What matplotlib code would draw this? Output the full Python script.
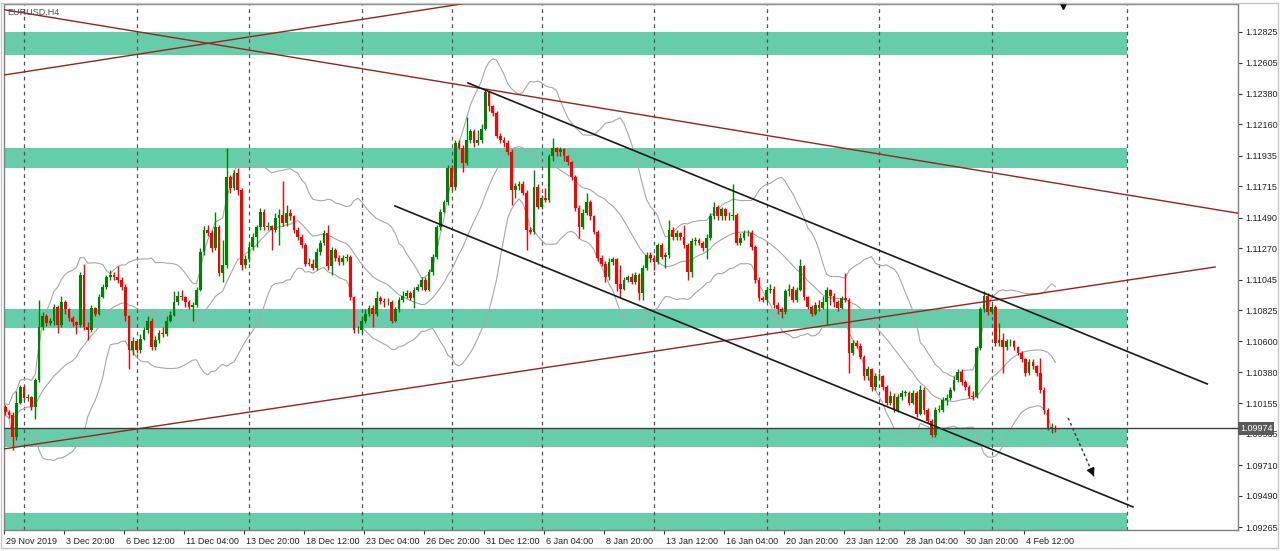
import numpy as np
import pandas as pd
import matplotlib
matplotlib.use('Agg')
import matplotlib.pyplot as plt
import matplotlib.transforms as mtransforms
from matplotlib.patches import Rectangle

plt.rcParams['font.family'] = ['Liberation Sans', 'DejaVu Sans']

# EURUSD H4 bars, 29 Nov 2019 .. 5 Feb 2020 (each bar opens at the previous close)
first_open = 1.1016
closes = [
    1.1013, 1.1009, 1.1007, 1.0991, 1.1016, 1.1027, 1.1019, 1.1020, 1.1013, 1.1032,
    1.1070, 1.1078, 1.1073, 1.1075, 1.1085, 1.1072, 1.1088, 1.1083, 1.1077, 1.1074,
    1.1072, 1.1108, 1.1070, 1.1068, 1.1084, 1.1080, 1.1092, 1.1099, 1.1106, 1.1108,
    1.1106, 1.1104, 1.1099, 1.1078, 1.1054, 1.1060, 1.1054, 1.1062, 1.1068, 1.1075,
    1.1056, 1.1061, 1.1066, 1.1065, 1.1075, 1.1079, 1.1088, 1.1093, 1.1092, 1.1088,
    1.1085, 1.1086, 1.1097, 1.1124, 1.1140, 1.1138, 1.1127, 1.1142, 1.1109, 1.1115,
    1.1178, 1.1170, 1.1181, 1.1169, 1.1115, 1.1119, 1.1128, 1.1135, 1.1142, 1.1153,
    1.1142, 1.1143, 1.1140, 1.1149, 1.1151, 1.1145, 1.1152, 1.1150, 1.1140, 1.1135,
    1.1129, 1.1116, 1.1116, 1.1113, 1.1124, 1.1131, 1.1138, 1.1114, 1.1126, 1.1120,
    1.1117, 1.1120, 1.1121, 1.1092, 1.1068, 1.1068, 1.1075, 1.1080, 1.1084, 1.1080,
    1.1091, 1.1089, 1.1088, 1.1088, 1.1075, 1.1083, 1.1090, 1.1093, 1.1095, 1.1091,
    1.1097, 1.1099, 1.1104, 1.1097, 1.1110, 1.1121, 1.1142, 1.1153, 1.1160, 1.1185,
    1.1171, 1.1203, 1.1199, 1.1188, 1.1205, 1.1211, 1.1203, 1.1205, 1.1213, 1.1239,
    1.1229, 1.1224, 1.1208, 1.1205, 1.1203, 1.1196, 1.1169, 1.1172, 1.1173, 1.1167,
    1.1140, 1.1139, 1.1171, 1.1157, 1.1163, 1.1162, 1.1193, 1.1199, 1.1196, 1.1198,
    1.1193, 1.1189, 1.1178, 1.1156, 1.1142, 1.1152, 1.1160, 1.1150, 1.1139, 1.1120,
    1.1116, 1.1106, 1.1117, 1.1119, 1.1101, 1.1098, 1.1104, 1.1106, 1.1103, 1.1108,
    1.1095, 1.1113, 1.1122, 1.1120, 1.1117, 1.1129, 1.1121, 1.1122, 1.1140, 1.1135,
    1.1138, 1.1135, 1.1129, 1.1110, 1.1132, 1.1133, 1.1131, 1.1127, 1.1134, 1.1150,
    1.1157, 1.1150, 1.1155, 1.1150, 1.1150, 1.1151, 1.1131, 1.1134, 1.1138, 1.1138,
    1.1128, 1.1104, 1.1091, 1.1090, 1.1097, 1.1098, 1.1086, 1.1083, 1.1081, 1.1096,
    1.1098, 1.1090, 1.1097, 1.1114, 1.1092, 1.1085, 1.1080, 1.1086, 1.1084, 1.1088,
    1.1097, 1.1093, 1.1088, 1.1084, 1.1091, 1.1090, 1.1052, 1.1059, 1.1057, 1.1049,
    1.1035, 1.1040, 1.1027, 1.1035, 1.1035, 1.1027, 1.1016, 1.1021, 1.1011, 1.1020,
    1.1023, 1.1023, 1.1016, 1.1023, 1.1008, 1.1025, 1.1011, 1.1003, 1.0993, 1.1011,
    1.1011, 1.1018, 1.1019, 1.1025, 1.1032, 1.1038, 1.1031, 1.1027, 1.1021, 1.1020,
    1.1055, 1.1083, 1.1093, 1.1081, 1.1085, 1.1059, 1.1061, 1.1056, 1.1060, 1.1060,
    1.1056, 1.1052, 1.1047, 1.1037, 1.1045, 1.1042, 1.1037, 1.1025, 1.1011, 1.0998,
    1.0998, 1.0997,
]
highs = [
    1.1017, 1.1014, 1.1011, 1.1009, 1.1024, 1.1029, 1.1029, 1.1022, 1.1021, 1.1034,
    1.1090, 1.1081, 1.1080, 1.1077, 1.1087, 1.1086, 1.1093, 1.1090, 1.1084, 1.1078,
    1.1075, 1.1110, 1.1116, 1.1074, 1.1086, 1.1085, 1.1094, 1.1101, 1.1108, 1.1111,
    1.1110, 1.1114, 1.1106, 1.1101, 1.1079, 1.1063, 1.1061, 1.1065, 1.1070, 1.1078,
    1.1077, 1.1064, 1.1068, 1.1070, 1.1078, 1.1082, 1.1096, 1.1096, 1.1097, 1.1093,
    1.1090, 1.1088, 1.1099, 1.1127, 1.1143, 1.1144, 1.1140, 1.1153, 1.1144, 1.1133,
    1.1199, 1.1180, 1.1183, 1.1185, 1.1170, 1.1122, 1.1131, 1.1138, 1.1144, 1.1156,
    1.1155, 1.1146, 1.1144, 1.1152, 1.1155, 1.1175, 1.1158, 1.1155, 1.1151, 1.1142,
    1.1137, 1.1131, 1.1120, 1.1119, 1.1127, 1.1133, 1.1140, 1.1144, 1.1128, 1.1127,
    1.1122, 1.1122, 1.1123, 1.1122, 1.1093, 1.1071, 1.1078, 1.1083, 1.1086, 1.1086,
    1.1096, 1.1093, 1.1091, 1.1091, 1.1090, 1.1085, 1.1092, 1.1096, 1.1097, 1.1096,
    1.1099, 1.1101, 1.1106, 1.1106, 1.1112, 1.1123, 1.1144, 1.1155, 1.1162, 1.1187,
    1.1187, 1.1205, 1.1205, 1.1201, 1.1221, 1.1213, 1.1213, 1.1212, 1.1216, 1.1241,
    1.1239, 1.1230, 1.1226, 1.1210, 1.1207, 1.1205, 1.1198, 1.1174, 1.1175, 1.1175,
    1.1169, 1.1142, 1.1183, 1.1173, 1.1165, 1.1170, 1.1195, 1.1206, 1.1200, 1.1200,
    1.1199, 1.1194, 1.1190, 1.1180, 1.1158, 1.1155, 1.1167, 1.1162, 1.1151, 1.1140,
    1.1122, 1.1118, 1.1120, 1.1121, 1.1120, 1.1115, 1.1106, 1.1108, 1.1109, 1.1110,
    1.1109, 1.1115, 1.1124, 1.1124, 1.1122, 1.1131, 1.1131, 1.1124, 1.1147, 1.1142,
    1.1140, 1.1139, 1.1144, 1.1131, 1.1134, 1.1135, 1.1134, 1.1132, 1.1137, 1.1152,
    1.1160, 1.1158, 1.1157, 1.1156, 1.1153, 1.1173, 1.1152, 1.1138, 1.1140, 1.1140,
    1.1140, 1.1129, 1.1106, 1.1093, 1.1099, 1.1101, 1.1100, 1.1088, 1.1085, 1.1098,
    1.1101, 1.1100, 1.1099, 1.1119, 1.1115, 1.1093, 1.1086, 1.1088, 1.1090, 1.1093,
    1.1099, 1.1098, 1.1095, 1.1090, 1.1093, 1.1109, 1.1091, 1.1061, 1.1061, 1.1059,
    1.1050, 1.1042, 1.1041, 1.1037, 1.1037, 1.1036, 1.1029, 1.1024, 1.1023, 1.1022,
    1.1025, 1.1025, 1.1024, 1.1025, 1.1024, 1.1029, 1.1027, 1.1012, 1.1004, 1.1013,
    1.1014, 1.1020, 1.1022, 1.1027, 1.1035, 1.1040, 1.1040, 1.1032, 1.1029, 1.1024,
    1.1057, 1.1085, 1.1096, 1.1095, 1.1087, 1.1086, 1.1073, 1.1066, 1.1062, 1.1062,
    1.1061, 1.1057, 1.1053, 1.1048, 1.1047, 1.1047, 1.1043, 1.1048, 1.1027, 1.1012,
    1.1001, 1.1000,
]
lows = [
    1.1011, 1.1007, 1.1005, 1.0982, 1.0989, 1.1015, 1.1018, 1.1017, 1.1011, 1.1004,
    1.1031, 1.1068, 1.1071, 1.1072, 1.1072, 1.1066, 1.1070, 1.1080, 1.1075, 1.1071,
    1.1065, 1.1070, 1.1068, 1.1061, 1.1067, 1.1078, 1.1079, 1.1091, 1.1098, 1.1104,
    1.1104, 1.1102, 1.1097, 1.1075, 1.1040, 1.1050, 1.1052, 1.1052, 1.1061, 1.1066,
    1.1054, 1.1054, 1.1059, 1.1063, 1.1064, 1.1074, 1.1078, 1.1086, 1.1090, 1.1085,
    1.1083, 1.1075, 1.1085, 1.1096, 1.1122, 1.1136, 1.1124, 1.1126, 1.1107, 1.1103,
    1.1113, 1.1167, 1.1169, 1.1165, 1.1111, 1.1113, 1.1117, 1.1126, 1.1128, 1.1140,
    1.1140, 1.1140, 1.1126, 1.1139, 1.1129, 1.1143, 1.1143, 1.1147, 1.1138, 1.1133,
    1.1127, 1.1114, 1.1114, 1.1111, 1.1111, 1.1122, 1.1129, 1.1111, 1.1108, 1.1118,
    1.1115, 1.1115, 1.1118, 1.1090, 1.1066, 1.1066, 1.1066, 1.1073, 1.1078, 1.1070,
    1.1078, 1.1087, 1.1085, 1.1086, 1.1073, 1.1074, 1.1081, 1.1088, 1.1091, 1.1090,
    1.1084, 1.1096, 1.1097, 1.1096, 1.1096, 1.1108, 1.1119, 1.1140, 1.1152, 1.1158,
    1.1169, 1.1169, 1.1198, 1.1182, 1.1187, 1.1203, 1.1200, 1.1201, 1.1203, 1.1212,
    1.1226, 1.1222, 1.1206, 1.1203, 1.1200, 1.1194, 1.1158, 1.1163, 1.1169, 1.1165,
    1.1126, 1.1137, 1.1137, 1.1155, 1.1155, 1.1160, 1.1160, 1.1190, 1.1193, 1.1193,
    1.1190, 1.1187, 1.1176, 1.1154, 1.1134, 1.1141, 1.1151, 1.1147, 1.1137, 1.1118,
    1.1114, 1.1103, 1.1104, 1.1115, 1.1096, 1.1092, 1.1097, 1.1103, 1.1101, 1.1101,
    1.1090, 1.1090, 1.1111, 1.1117, 1.1111, 1.1116, 1.1119, 1.1113, 1.1120, 1.1133,
    1.1133, 1.1133, 1.1127, 1.1104, 1.1106, 1.1129, 1.1129, 1.1125, 1.1119, 1.1133,
    1.1148, 1.1147, 1.1147, 1.1147, 1.1147, 1.1147, 1.1129, 1.1129, 1.1133, 1.1136,
    1.1126, 1.1102, 1.1089, 1.1088, 1.1088, 1.1095, 1.1084, 1.1080, 1.1077, 1.1080,
    1.1093, 1.1088, 1.1088, 1.1096, 1.1090, 1.1083, 1.1078, 1.1079, 1.1082, 1.1083,
    1.1072, 1.1086, 1.1085, 1.1082, 1.1083, 1.1088, 1.1037, 1.1050, 1.1055, 1.1047,
    1.1032, 1.1032, 1.1024, 1.1025, 1.1032, 1.1025, 1.1014, 1.1014, 1.1009, 1.1009,
    1.1018, 1.1021, 1.1014, 1.1015, 1.1006, 1.1007, 1.1008, 1.1001, 1.0991, 1.0991,
    1.1009, 1.1009, 1.1014, 1.1018, 1.1024, 1.1031, 1.1029, 1.1025, 1.1019, 1.1018,
    1.1019, 1.1054, 1.1081, 1.1079, 1.1080, 1.1057, 1.1057, 1.1037, 1.1054, 1.1057,
    1.1054, 1.1050, 1.1045, 1.1035, 1.1036, 1.1040, 1.1035, 1.1023, 1.1008, 1.0996,
    1.0994, 1.0995,
]

# time axis labels every 16 bars, starting at bar 1
tick_bars = [1, 17, 33, 49, 65, 81, 97, 113, 129, 145, 161, 177, 193, 209, 225, 241, 257, 273]
tick_labels = ['29 Nov 2019', '3 Dec 20:00', '6 Dec 12:00', '11 Dec 04:00', '13 Dec 20:00',
               '18 Dec 12:00', '23 Dec 04:00', '26 Dec 20:00', '31 Dec 12:00', '6 Jan 04:00',
               '8 Jan 20:00', '13 Jan 12:00', '16 Jan 04:00', '20 Jan 20:00', '23 Jan 12:00',
               '28 Jan 04:00', '30 Jan 20:00', '4 Feb 12:00']
week_starts = [6, 36, 66, 96, 120, 144, 174, 204, 234, 264, 300]

price_ticks = [1.12825, 1.12605, 1.12380, 1.12160, 1.11935, 1.11715, 1.11490, 1.11270,
               1.11045, 1.10825, 1.10600, 1.10380, 1.10155, 1.09935, 1.09710, 1.09490, 1.09265]
last_price = 1.09974

# support / resistance zones (top, bottom), drawn up to bar 300
zone_tops = [1.12825, 1.11991, 1.10833, 1.09974, 1.09367]
zone_bottoms = [1.12660, 1.11847, 1.10697, 1.09841, 1.09100]

# trendlines as (bar, price) anchor pairs
red_rays = [((-0.4, 1.12990), (329.2, 1.11524)),
            ((-0.4, 1.12511), (79.6, 1.12846))]
red_segment = ((0.67, 1.09827), (323.6, 1.11135))
channel_top = ((124.4, 1.12458), (321.5, 1.10294))
channel_bottom = ((104.9, 1.11574), (301.7, 1.09410))
arrow_from = (284.4, 1.10050)
arrow_to = (291.6, 1.09611)

GREEN_ZONE = '#66cdaa'
BULL = '#008000'
BEAR = '#ff0000'
TREND_RED = '#9a2222'

fig = plt.figure(figsize=(12.8, 5.51), dpi=100)
ax = fig.add_axes([4 / 1280, 21 / 551, 1234 / 1280, 526 / 551])

# zones
for top, bot in zip(zone_tops, zone_bottoms):
    ax.fill_between([-5, 300], bot, top, color=GREEN_ZONE, lw=0, zorder=1)

# period separators
for w in week_starts:
    ax.axvline(w, color='#555555', lw=0.9, ls=(0, (3, 3)), zorder=1.5)

# candles
c = np.array(closes)
o = np.array([first_open] + closes[:-1])
h = np.array(highs)
l = np.array(lows)
x = np.arange(len(c))
cols = np.where(c >= o, BULL, BEAR)
ax.vlines(x, l, h, colors=cols, lw=1, zorder=3)
body = np.maximum(np.abs(c - o), 0.00003)
ax.bar(x, body, bottom=np.minimum(o, c), width=0.72, color=cols, lw=0, zorder=3)

# Bollinger bands (20, 2)
s = pd.Series(c)
mid = s.rolling(20, min_periods=1).mean()
sd = s.rolling(20, min_periods=1).std(ddof=0)
for band in (mid, mid + 2 * sd, mid - 2 * sd):
    ax.plot(x, band, color='#a8a8a8', lw=0.8, zorder=2)

# trendlines
for p1, p2 in red_rays:
    ax.axline(p1, p2, color=TREND_RED, lw=1, zorder=4)
ax.plot([red_segment[0][0], red_segment[1][0]], [red_segment[0][1], red_segment[1][1]],
        color=TREND_RED, lw=1, zorder=4)
for p1, p2 in (channel_top, channel_bottom):
    ax.plot([p1[0], p2[0]], [p1[1], p2[1]], color='#1a1a1a', lw=1.2, zorder=4)

# projected move
ax.plot([arrow_from[0], arrow_to[0]], [arrow_from[1], arrow_to[1]],
        color='#333333', lw=1, ls=(0, (2, 2)), zorder=4)
back = (arrow_to[0] - 0.9, arrow_to[1] + 0.00055)
ax.annotate('', xy=arrow_to, xytext=back,
            arrowprops=dict(arrowstyle='-|>', color='#111111', lw=1, mutation_scale=12),
            zorder=5)

# small arrow object at the top edge
ax.plot([283.1], [1.13010], marker='v', color='#111111', markersize=5, zorder=5, clip_on=False)

# last price line and label
ax.axhline(last_price, color='#404040', lw=1, zorder=4)
trans = mtransforms.blended_transform_factory(ax.transAxes, ax.transData)
ax.text(1.0015, last_price, f'{last_price:.5f}', transform=trans, ha='left', va='center',
        fontsize=6.5, color='white', zorder=10,
        bbox=dict(facecolor='#5a5a5a', edgecolor='none', pad=1.2))

ax.text(0.003, 0.992, 'EURUSD,H4', transform=ax.transAxes, ha='left', va='top',
        fontsize=6.5, color='#505050', zorder=6)

ax.set_xlim(0.67, 329.7)
ax.set_ylim(1.09244, 1.13026)

ax.yaxis.tick_right()
ax.set_yticks(price_ticks)
ax.set_yticklabels([f'{p:.5f}' for p in price_ticks])
ax.set_xticks([b - 0.25 for b in tick_bars])
ax.set_xticklabels(tick_labels, ha='left')
ax.tick_params(axis='y', direction='out', length=3, width=0.8, pad=2, labelsize=6.5,
               colors='#333333', labelcolor='#222222')
ax.tick_params(axis='x', direction='out', length=3, width=0.8, pad=2, labelsize=6.5,
               colors='#333333', labelcolor='#222222')
offset = mtransforms.ScaledTranslation(1.5 / 100, 0, fig.dpi_scale_trans)
for lab in ax.get_xticklabels():
    lab.set_transform(lab.get_transform() + offset)

for sp in ax.spines.values():
    sp.set_color('#808080')
    sp.set_linewidth(1)

# window frame
fig.patches.append(Rectangle((0.5 / 1280, 3 / 551), 1277 / 1280, 545 / 551,
                             transform=fig.transFigure, fill=False,
                             edgecolor='#c8c8c8', lw=1))

fig.savefig('out.png', dpi=100, facecolor='white')
